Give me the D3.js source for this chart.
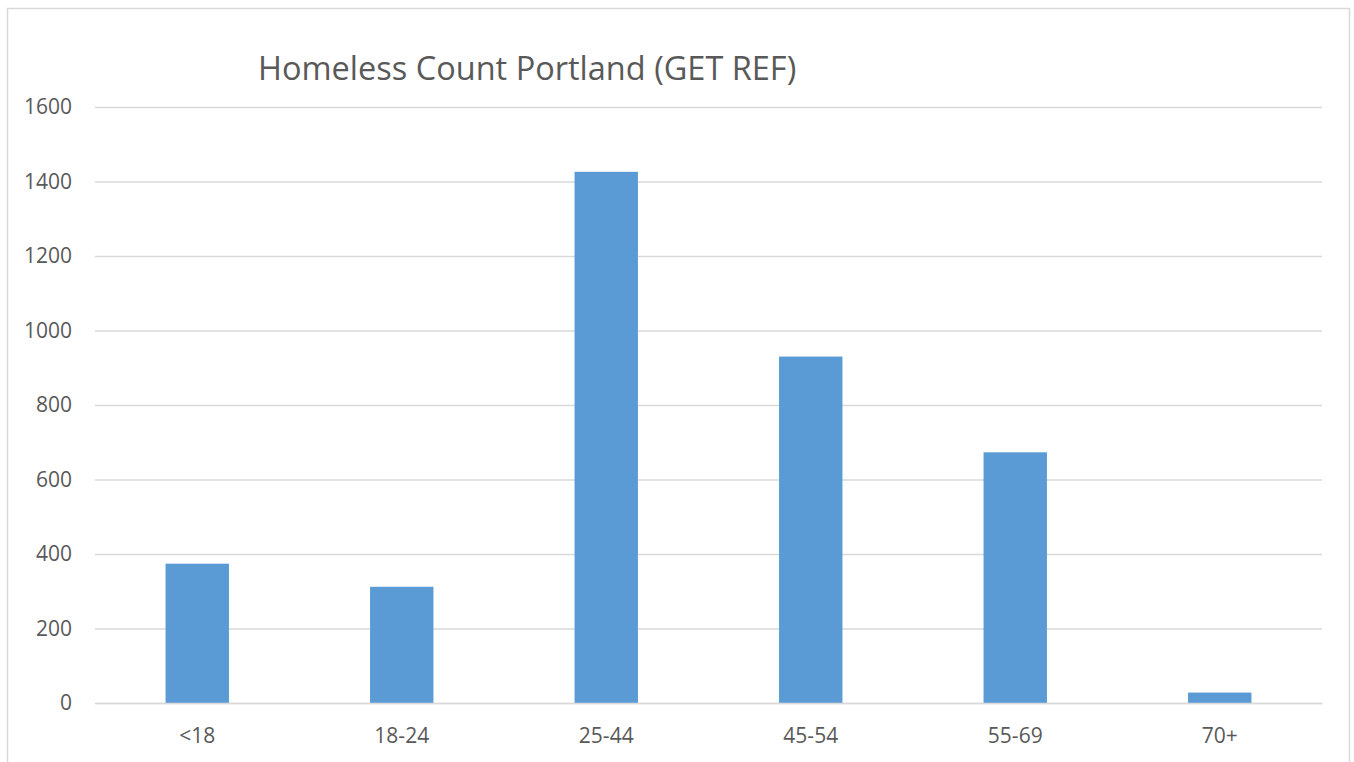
<!DOCTYPE html>
<html>
<head>
<meta charset="utf-8">
<script src="https://cdn.jsdelivr.net/npm/d3@7"></script>
<style>
  body { margin: 0; background: #fff; }
  svg { display: block; }
  text { font-family: "Open Sans", "Noto Sans", sans-serif; fill: #595959; }
</style>
</head>
<body>
<div id="chart"></div>
<script>
// age groups and counts
var categories = ["<18", "18-24", "25-44", "45-54", "55-69", "70+"];
var counts = [374, 312, 1426, 930, 673, 28];
var yTicks = [0, 200, 400, 600, 800, 1000, 1200, 1400, 1600];
var title = "Homeless Count Portland (GET REF)";

var width = 1354, height = 762;
var margin = {top: 107, right: 32, bottom: 59, left: 95};

var svg = d3.select("#chart").append("svg")
    .attr("width", width)
    .attr("height", height);

// outer chart frame
svg.append("rect")
    .attr("x", 7.5).attr("y", 8.5)
    .attr("width", 1342).attr("height", 770)
    .attr("fill", "#fff")
    .attr("stroke", "#d9d9d9")
    .attr("stroke-width", 1.5);

var x = d3.scaleBand()
    .domain(categories)
    .range([margin.left, width - margin.right])
    .paddingInner(0.69)
    .paddingOuter(0.345);

var y = d3.scaleLinear()
    .domain([0, 1600])
    .range([height - margin.bottom, margin.top]);

// horizontal gridlines
var yAxis = d3.axisLeft(y)
    .tickValues(yTicks)
    .tickSize(-(width - margin.left - margin.right))
    .tickPadding(23)
    .tickFormat(d3.format("d"));

var gy = svg.append("g")
    .attr("transform", "translate(" + margin.left + ",0)")
    .call(yAxis);
gy.select(".domain").remove();
gy.selectAll(".tick line")
    .attr("stroke", "#d9d9d9")
    .attr("stroke-width", 1.5);
gy.selectAll(".tick text")
    .style("font-size", "21px")
    .attr("fill", "#595959");

// bars
svg.append("g").selectAll("rect")
    .data(counts)
    .enter()
    .append("rect")
    .attr("x", function(d, i) { return x(categories[i]); })
    .attr("y", function(d) { return y(d); })
    .attr("width", x.bandwidth())
    .attr("height", function(d) { return y(0) - y(d); })
    .attr("fill", "#5b9bd5");

// category axis
var xAxis = d3.axisBottom(x).tickSize(0).tickPadding(25);
var gx = svg.append("g")
    .attr("transform", "translate(0," + y(0) + ")")
    .call(xAxis);
gx.select(".domain")
    .attr("stroke", "#d9d9d9")
    .attr("stroke-width", 1.5);
gx.selectAll(".tick text")
    .style("font-size", "21px")
    .attr("fill", "#595959");

// title
svg.append("text")
    .attr("x", 258)
    .attr("y", 80)
    .style("font-size", "32.5px")
    .text(title);
</script>
</body>
</html>
